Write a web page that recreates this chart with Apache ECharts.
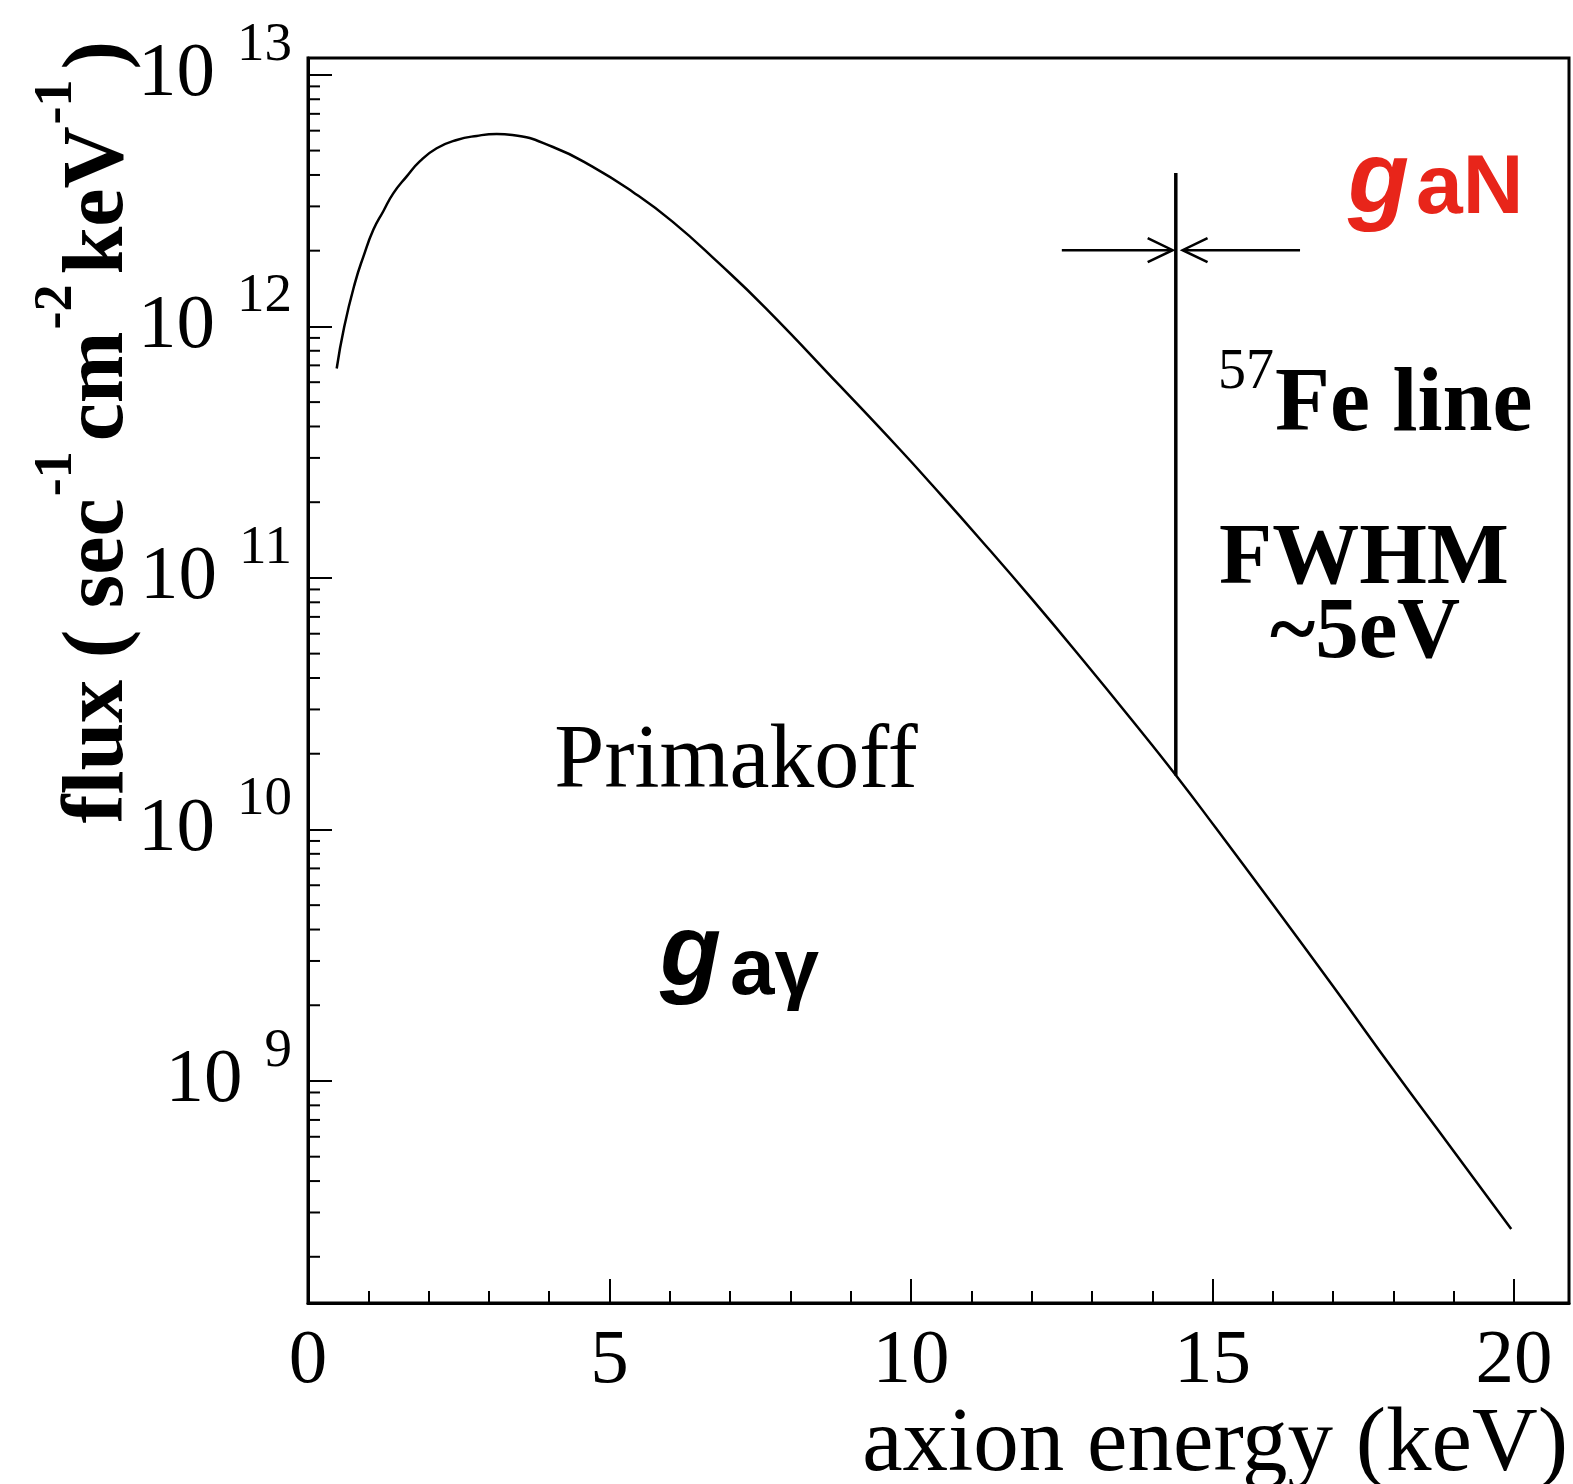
<!DOCTYPE html>
<html>
<head>
<meta charset="utf-8">
<script src="https://cdn.jsdelivr.net/npm/echarts@6/dist/echarts.min.js"></script>
<style>html,body{margin:0;padding:0;background:#fff}</style>
</head>
<body>
<div id="chart" style="width:1573px;height:1484px;"></div>
<script>
// Primakoff axion flux (keV, sec^-1 cm^-2 keV^-1)
var energy = [0.476, 0.6, 0.779, 0.917, 1.083, 1.249, 1.414, 1.637, 1.857, 2.134, 2.466, 2.797, 3.129, 3.389, 4.053, 4.716, 5.38, 6.044, 6.818, 7.593, 8.81, 9.8, 10.357, 11.186, 12.016, 12.846, 13.675, 14.394, 15.058, 15.997, 16.992, 18.044, 18.928, 19.952];
var flux = [6.8e11, 9.95e11, 1.49e12, 1.89e12, 2.42e12, 2.87e12, 3.38e12, 3.95e12, 4.54e12, 5.11e12, 5.51e12, 5.72e12, 5.82e12, 5.77e12, 5.18e12, 4.32e12, 3.43e12, 2.61e12, 1.78e12, 1.18e12, 5.84e11, 3.27e11, 2.33e11, 1.39e11, 8.18e10, 4.73e10, 2.7e10, 1.64e10, 1.01e10, 5.04e9, 2.39e9, 1.07e9, 5.54e8, 2.58e8];

// 57Fe line (14.4 keV) and the FWHM arrows
var feLineEnergy = [14.39, 14.39];
var feLineFlux = [1.64e10, 4.07e12];
var arrowFlux = 2.01e12;
var arrowLeftEnergy = [12.5, 14.33];
var arrowRightEnergy = [16.45, 14.51];

// axes
var xMin = 0, xMax = 20.91;
var yMin = 1.31e8, yMax = 1.167e13;
var minorMantissa = [2, 3, 4, 5, 6, 7, 8, 9];
var minorDecades = [8, 9, 10, 11, 12];

var serif = "'Liberation Serif', 'Times New Roman', serif";
var sans = "'Liberation Sans', Arial, sans-serif";

var minorTicks = [];
minorDecades.forEach(function (d) {
    minorMantissa.forEach(function (m) {
        var v = m * Math.pow(10, d);
        if (v > yMin && v < yMax) minorTicks.push([xMin, v]);
    });
});

var myChart = echarts.init(document.getElementById('chart'));
var option = {
    animation: false,
    backgroundColor: '#fff',
    grid: {
        left: 308, top: 58, right: 4, bottom: 181,
        show: true, borderColor: '#000', borderWidth: 3
    },
    xAxis: [{
        type: 'value', min: xMin, max: xMax, interval: 5, position: 'bottom',
        axisLine: { lineStyle: { color: '#000', width: 3 } },
        axisTick: { inside: true, length: 24, lineStyle: { color: '#000', width: 2 } },
        axisLabel: {
            margin: 20, color: '#000', fontFamily: serif, fontSize: 77,
            formatter: function (v) { return v % 5 === 0 ? String(v) : ''; }
        },
        splitLine: { show: false }
    }, {
        type: 'value', min: xMin, max: xMax, interval: 1, position: 'bottom',
        axisLine: { show: false },
        axisTick: { inside: true, length: 12, lineStyle: { color: '#000', width: 2 } },
        axisLabel: { show: false },
        splitLine: { show: false }
    }],
    yAxis: {
        type: 'log', logBase: 10, min: yMin, max: yMax,
        axisLine: { lineStyle: { color: '#000', width: 3 } },
        axisTick: { inside: true, length: 24, lineStyle: { color: '#000', width: 2 } },
        axisLabel: {
            margin: 16,
            formatter: function (v) {
                var e = Math.round(Math.log10(v));
                if (Math.abs(Math.log10(v) - e) > 1e-6) return '';
                return '{b|10}{s|' + e + '}';
            },
            rich: {
                b: { fontFamily: serif, fontSize: 77, lineHeight: 114, color: '#000' },
                s: { fontFamily: serif, fontSize: 55, lineHeight: 36, verticalAlign: 'top', padding: [0, 0, 0, 22], color: '#000' }
            }
        },
        splitLine: { show: false }
    },
    series: [{
        name: 'Primakoff',
        type: 'line',
        data: energy.map(function (e, i) { return [e, flux[i]]; }),
        showSymbol: false,
        smooth: 0.5,
        lineStyle: { color: '#000', width: 2.5 }
    }, {
        name: '57Fe line',
        type: 'line',
        data: feLineEnergy.map(function (e, i) { return [e, feLineFlux[i]]; }),
        showSymbol: false,
        lineStyle: { color: '#000', width: 3.5 }
    }, {
        type: 'line',
        symbol: 'path://M0,0L24,12L0,24',
        symbolSize: [25, 24],
        symbolOffset: [-12, 0],
        data: [{ value: [arrowLeftEnergy[0], arrowFlux], symbol: 'none' }, [arrowLeftEnergy[1], arrowFlux]],
        lineStyle: { color: '#000', width: 2.5 },
        itemStyle: { color: 'rgba(0,0,0,0)', borderColor: '#000', borderWidth: 2.5 }
    }, {
        type: 'line',
        symbol: 'path://M24,0L0,12L24,24',
        symbolSize: [25, 24],
        symbolOffset: [12, 0],
        data: [{ value: [arrowRightEnergy[0], arrowFlux], symbol: 'none' }, [arrowRightEnergy[1], arrowFlux]],
        lineStyle: { color: '#000', width: 2.5 },
        itemStyle: { color: 'rgba(0,0,0,0)', borderColor: '#000', borderWidth: 2.5 }
    }, {
        // log minor ticks on the y axis
        type: 'custom',
        silent: true,
        data: minorTicks,
        renderItem: function (params, api) {
            var p = api.coord([api.value(0), api.value(1)]);
            return {
                type: 'line',
                shape: { x1: p[0], y1: p[1], x2: p[0] + 12, y2: p[1] },
                style: { stroke: '#000', lineWidth: 2 }
            };
        }
    }],
    graphic: [{
        type: 'text', x: 100, y: 432, rotation: Math.PI / 2,
        style: {
            text: '{n|flux ( sec}{s|-1}{n|cm}{s|-2}{n|keV}{s|-1}{n|)}',
            align: 'center', verticalAlign: 'middle', fill: '#000',
            rich: {
                n: { fontFamily: serif, fontWeight: 'bold', fontSize: 86, lineHeight: 140, fill: '#000' },
                s: { fontFamily: serif, fontWeight: 'bold', fontSize: 54, lineHeight: 20, verticalAlign: 'top', padding: [0, 10, 0, 2], fill: '#000' }
            }
        }
    }, {
        type: 'text', x: 1568, y: 1446,
        style: { text: 'axion energy (keV)', fontFamily: serif, fontSize: 91, fill: '#000', align: 'right', verticalAlign: 'middle' }
    }, {
        type: 'text', x: 736, y: 763,
        style: { text: 'Primakoff', fontFamily: serif, fontSize: 90, fill: '#000', align: 'center', verticalAlign: 'middle' }
    }, {
        type: 'text', x: 660, y: 956,
        style: { text: 'g', fontFamily: sans, fontWeight: 'bold', fontStyle: 'italic', fontSize: 100, fill: '#000', align: 'left', verticalAlign: 'middle' }
    }, {
        type: 'text', x: 730, y: 972,
        style: { text: 'a\u03b3', fontFamily: sans, fontWeight: 'bold', fontSize: 80, fill: '#000', align: 'left', verticalAlign: 'middle' }
    }, {
        type: 'text', x: 1348, y: 183,
        style: { text: 'g', fontFamily: sans, fontWeight: 'bold', fontStyle: 'italic', fontSize: 100, fill: '#e8251a', align: 'left', verticalAlign: 'middle' }
    }, {
        type: 'text', x: 1416, y: 190,
        style: { text: 'aN', fontFamily: sans, fontWeight: 'bold', fontSize: 84, fill: '#e8251a', align: 'left', verticalAlign: 'middle' }
    }, {
        type: 'text', x: 1218, y: 373,
        style: { text: '57', fontFamily: serif, fontSize: 56, fill: '#000', align: 'left', verticalAlign: 'middle' }
    }, {
        type: 'text', x: 1275, y: 407,
        style: { text: 'Fe line', fontFamily: serif, fontWeight: 'bold', fontSize: 90, fill: '#000', align: 'left', verticalAlign: 'middle' }
    }, {
        type: 'text', x: 1364, y: 561,
        style: { text: 'FWHM', fontFamily: serif, fontWeight: 'bold', fontSize: 87, fill: '#000', align: 'center', verticalAlign: 'middle' }
    }, {
        type: 'text', x: 1365, y: 635,
        style: { text: '~5eV', fontFamily: serif, fontWeight: 'bold', fontSize: 87, fill: '#000', align: 'center', verticalAlign: 'middle' }
    }]
};
myChart.setOption(option);
</script>
</body>
</html>
